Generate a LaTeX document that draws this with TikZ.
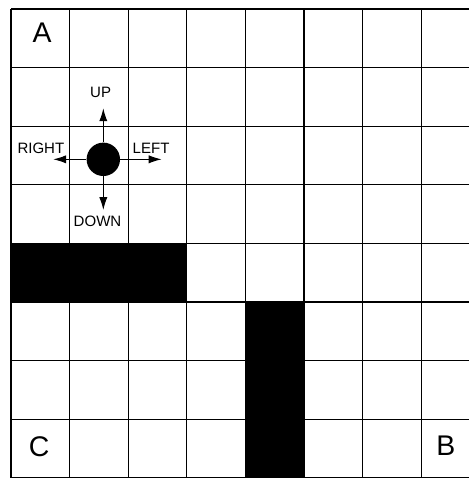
\documentclass[tikz,border=0pt]{standalone}
\usepackage{fontspec}
\setmainfont{Liberation Sans}
\usetikzlibrary{arrows.meta}

\begin{document}
\begin{tikzpicture}[x=1cm, y=1cm,
    dirlabel/.style={font=\fontsize{7.3}{8}\selectfont, inner sep=0pt},
    cornerlabel/.style={font=\fontsize{13.8}{16}\selectfont, inner sep=0pt},
    move/.style={line width=0.5pt, -{Latex[length=2.2mm,width=1.4mm]}}]
                \useasboundingbox (-0.188,-0.02) rectangle (7.80,8.154);

                \draw[line width=0.6pt] (0,0) grid (8,8);
                \fill[black] (0,3) rectangle (3,4);
                \fill[black] (4,0) rectangle (5,3);

                \node[cornerlabel] (a) at (0.53,7.60) {A};
                \node[cornerlabel] (b) at (7.42,0.546) {B};
                \node[cornerlabel] (c) at (0.48,0.53) {C};

                \node[circle, fill=black, minimum size=0.57cm, inner sep=0pt] (robot) at (1.575,5.435) {};
                \coordinate (up) at (1.575,6.305);
                \coordinate (down) at (1.575,4.57);
                \coordinate (right) at (0.72,5.435);
                \coordinate (left) at (2.57,5.435);

                \draw[move] (robot) -- (up);
                \draw[move] (robot) -- (down);
                \draw[move] (robot) -- (right);
                \draw[move] (robot) -- (left);

                \node[dirlabel] (uplabel) at (1.53,6.57) {UP};
                \node[dirlabel] (downlabel) at (1.476,4.37) {DOWN};
                \node[dirlabel] (rightlabel) at (0.51,5.616) {RIGHT};
                \node[dirlabel] (leftlabel) at (2.39,5.616) {LEFT};
            \end{tikzpicture}
\end{document}
